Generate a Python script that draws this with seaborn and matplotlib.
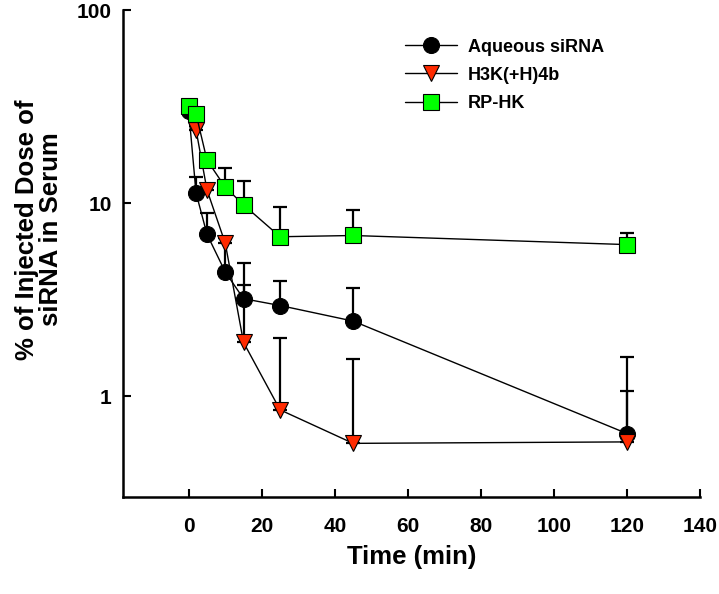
import numpy as np
import pandas as pd
import matplotlib
matplotlib.use("Agg")
import matplotlib.pyplot as plt
import seaborn as sns

sns.set_style("ticks")
plt.rcParams['font.family'] = ['Liberation Sans', 'DejaVu Sans']
plt.rcParams['font.weight'] = 'bold'
plt.rcParams.update({'text.color': 'black', 'axes.labelcolor': 'black',
                     'xtick.color': 'black', 'ytick.color': 'black',
                     'axes.edgecolor': 'black'})

# time points (min)
time = [0, 2, 5, 10, 15, 25, 45, 120]

# mean % injected dose and upper error limits
aqueous = [30.0, 11.3, 6.9, 4.4, 3.2, 2.95, 2.45, 0.64]
aqueous_top = [31.0, 13.6, 8.9, 6.6, 4.9, 3.95, 3.65, 1.06]

h3k = [31.0, 24.0, 11.7, 6.2, 1.9, 0.85, 0.57, 0.58]
h3k_top = [32.0, 25.0, 12.5, 6.6, 3.75, 2.0, 1.55, 1.6]

rphk = [32.0, 29.0, 16.7, 12.1, 9.8, 6.7, 6.8, 6.1]
rphk_top = [33.0, 30.0, 17.5, 15.3, 13.0, 9.5, 9.2, 7.0]

series = ["Aqueous siRNA", "H3K(+H)4b", "RP-HK"]
face_colors = ["black", "#ff2a00", "#00ff00"]
marker_styles = ["o", "v", "s"]

df = pd.concat([
    pd.DataFrame({"time": time, "dose": aqueous, "top": aqueous_top, "group": series[0]}),
    pd.DataFrame({"time": time, "dose": h3k, "top": h3k_top, "group": series[1]}),
    pd.DataFrame({"time": time, "dose": rphk, "top": rphk_top, "group": series[2]}),
])

fig = plt.figure(figsize=(7.19, 5.94), dpi=100)
ax = fig.add_axes([0.171, 0.163, 0.803, 0.820])

for i, g in enumerate(series):
    d = df[df["group"] == g]
    # upper error bars only
    up = d["top"].values - d["dose"].values
    ax.errorbar(d["time"], d["dose"], yerr=[np.zeros(len(d)), up], fmt="none",
                ecolor="black", elinewidth=1.6, capsize=4.7, capthick=1.6, zorder=2 + 2 * i)
    sns.lineplot(data=d, x="time", y="dose", color="black", linewidth=1.0,
                 marker=marker_styles[i], markersize=11.5, markerfacecolor=face_colors[i],
                 markeredgecolor="black", markeredgewidth=0.8, label=g, ax=ax,
                 zorder=3 + 2 * i)

ax.set_yscale("log")
ax.set_ylim(0.3, 100)
ax.set_xlim(-18, 140)
ax.set_xticks([0, 20, 40, 60, 80, 100, 120, 140])
ax.set_yticks([1, 10, 100])
ax.set_yticklabels(["1", "10", "100"])
ax.yaxis.set_minor_locator(matplotlib.ticker.NullLocator())
ax.tick_params(direction="in", length=6, width=1.5, labelsize=15)
ax.tick_params(axis="x", pad=14)
ax.tick_params(axis="y", pad=8)
for lab in ax.get_xticklabels() + ax.get_yticklabels():
    lab.set_fontweight("bold")

sns.despine(ax=ax)
for s in ["left", "bottom"]:
    ax.spines[s].set_linewidth(1.8)

ax.set_xlabel("Time (min)", fontsize=18.5, fontweight="bold", labelpad=7)
ax.set_ylabel("% of Injected Dose of\nsiRNA in Serum", fontsize=18.5,
              fontweight="bold", linespacing=1.0)
ax.yaxis.set_label_coords(-0.104, 0.55)

ax.legend(loc="upper left", bbox_to_anchor=(0.46, 0.975), frameon=False,
          prop={"weight": "bold", "size": 13}, handlelength=2.9, labelspacing=0.62,
          handletextpad=0.6)

fig.savefig("out.png", dpi=100)
